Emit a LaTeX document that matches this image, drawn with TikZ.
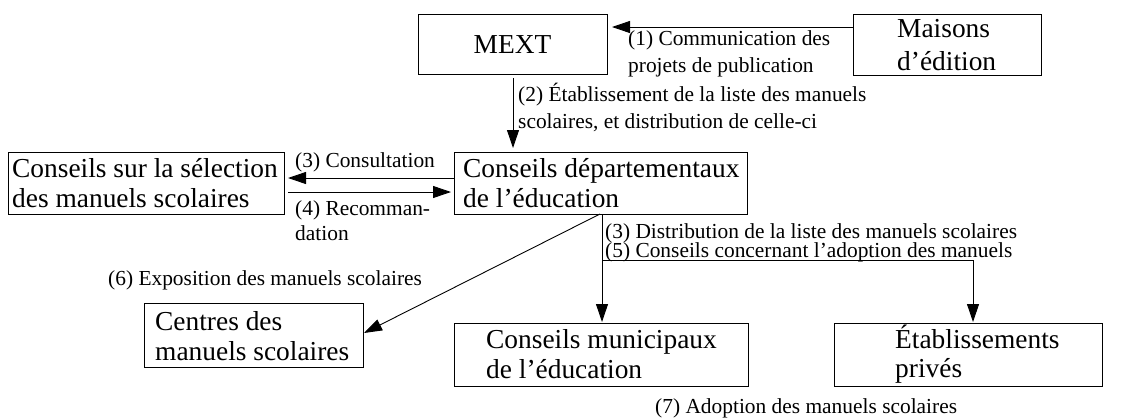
\documentclass[tikz,border=0pt]{standalone}
\usepackage{fontspec}
\setmainfont{Liberation Serif}
\usetikzlibrary{arrows.meta}
\begin{document}
\begin{tikzpicture}[x=1pt,y=-1pt,
  box/.style={draw,line width=0.9pt,inner sep=0pt,anchor=north west},
  big/.style={anchor=base west,inner sep=0pt,font=\fontsize{27.4}{30}\selectfont},
  lbl/.style={anchor=base west,inner sep=0pt,font=\fontsize{21.4}{27}\selectfont},
  conn/.style={line width=0.9pt,-{Triangle[length=18pt,width=12pt]}},
  plain/.style={line width=0.9pt}]
\useasboundingbox (0,0) rectangle (1134,418);
% boxes
\node[box,minimum width=189pt,minimum height=60pt] (mext) at (418,14) {};
\node[box,minimum width=188pt,minimum height=61pt] (mais) at (853,14) {};
\node[box,minimum width=276pt,minimum height=62pt] (sel) at (8,152) {};
\node[box,minimum width=293pt,minimum height=62pt] (dep) at (454,152) {};
\node[box,minimum width=219pt,minimum height=64pt] (cen) at (144,303) {};
\node[box,minimum width=294pt,minimum height=63pt] (mun) at (454,323) {};
\node[box,minimum width=268pt,minimum height=63pt] (pri) at (834,323) {};
% box texts
\node[big,anchor=base] (tmext) at (512.5,53) {MEXT};
\node[big] (tmais1) at (897,37) {Maisons};
\node[big] (tmais2) at (897,70) {d’édition};
\node[big] (tsel1) at (12,177) {Conseils sur la sélection};
\node[big] (tsel2) at (12,207) {des manuels scolaires};
\node[big] (tdep1) at (463,177) {Conseils départementaux};
\node[big] (tdep2) at (463,207) {de l’éducation};
\node[big] (tcen1) at (155,330) {Centres des};
\node[big] (tcen2) at (155,360) {manuels scolaires};
\node[big] (tmun1) at (486,348) {Conseils municipaux};
\node[big] (tmun2) at (486,378) {de l’éducation};
\node[big] (tpri1) at (895,348) {Établissements};
\node[big] (tpri2) at (895,377) {privés};
% connectors
\coordinate (m1) at (853,27);
\coordinate (m2) at (612,27);
\draw[conn] (m1) -- (m2);
\coordinate (e1) at (513,78);
\coordinate (e2) at (513,148);
\draw[conn] (e1) -- (e2);
\coordinate (c1) at (454,178);
\coordinate (c2) at (288,178);
\draw[conn] (c1) -- (c2);
\coordinate (r1) at (288,192);
\coordinate (r2) at (451,192);
\draw[conn] (r1) -- (r2);
\coordinate (d1) at (600,214);
\coordinate (d2) at (364,333);
\draw[conn] (d1) -- (d2);
\coordinate (v1) at (602,214);
\coordinate (v2) at (602,322);
\coordinate (h1) at (602,260);
\coordinate (h2) at (973,260);
\coordinate (h3) at (973,322);
\draw[conn] (v1) -- (v2);
\draw[conn] (h1) -- (h2) -- (h3);
% labels
\node[lbl] (l1a) at (628,45) {(1) Communication des};
\node[lbl] (l1b) at (628,72) {projets de publication};
\node[lbl] (l2a) at (518,101) {(2) Établissement de la liste des manuels};
\node[lbl] (l2b) at (518,128) {scolaires, et distribution de celle-ci};
\node[lbl] (l3) at (295,167) {(3) Consultation};
\node[lbl] (l4a) at (295,215) {(4) Recomman-};
\node[lbl] (l4b) at (295,240) {dation};
\node[lbl] (l35a) at (605,238) {(3) Distribution de la liste des manuels scolaires};
\node[lbl] (l35b) at (605,257.5) {(5) Conseils concernant l’adoption des manuels};
\node[lbl] (l6) at (108,285) {(6) Exposition des manuels scolaires};
\node[lbl] (l7) at (655,413) {(7) Adoption des manuels scolaires};
\end{tikzpicture}
\end{document}
